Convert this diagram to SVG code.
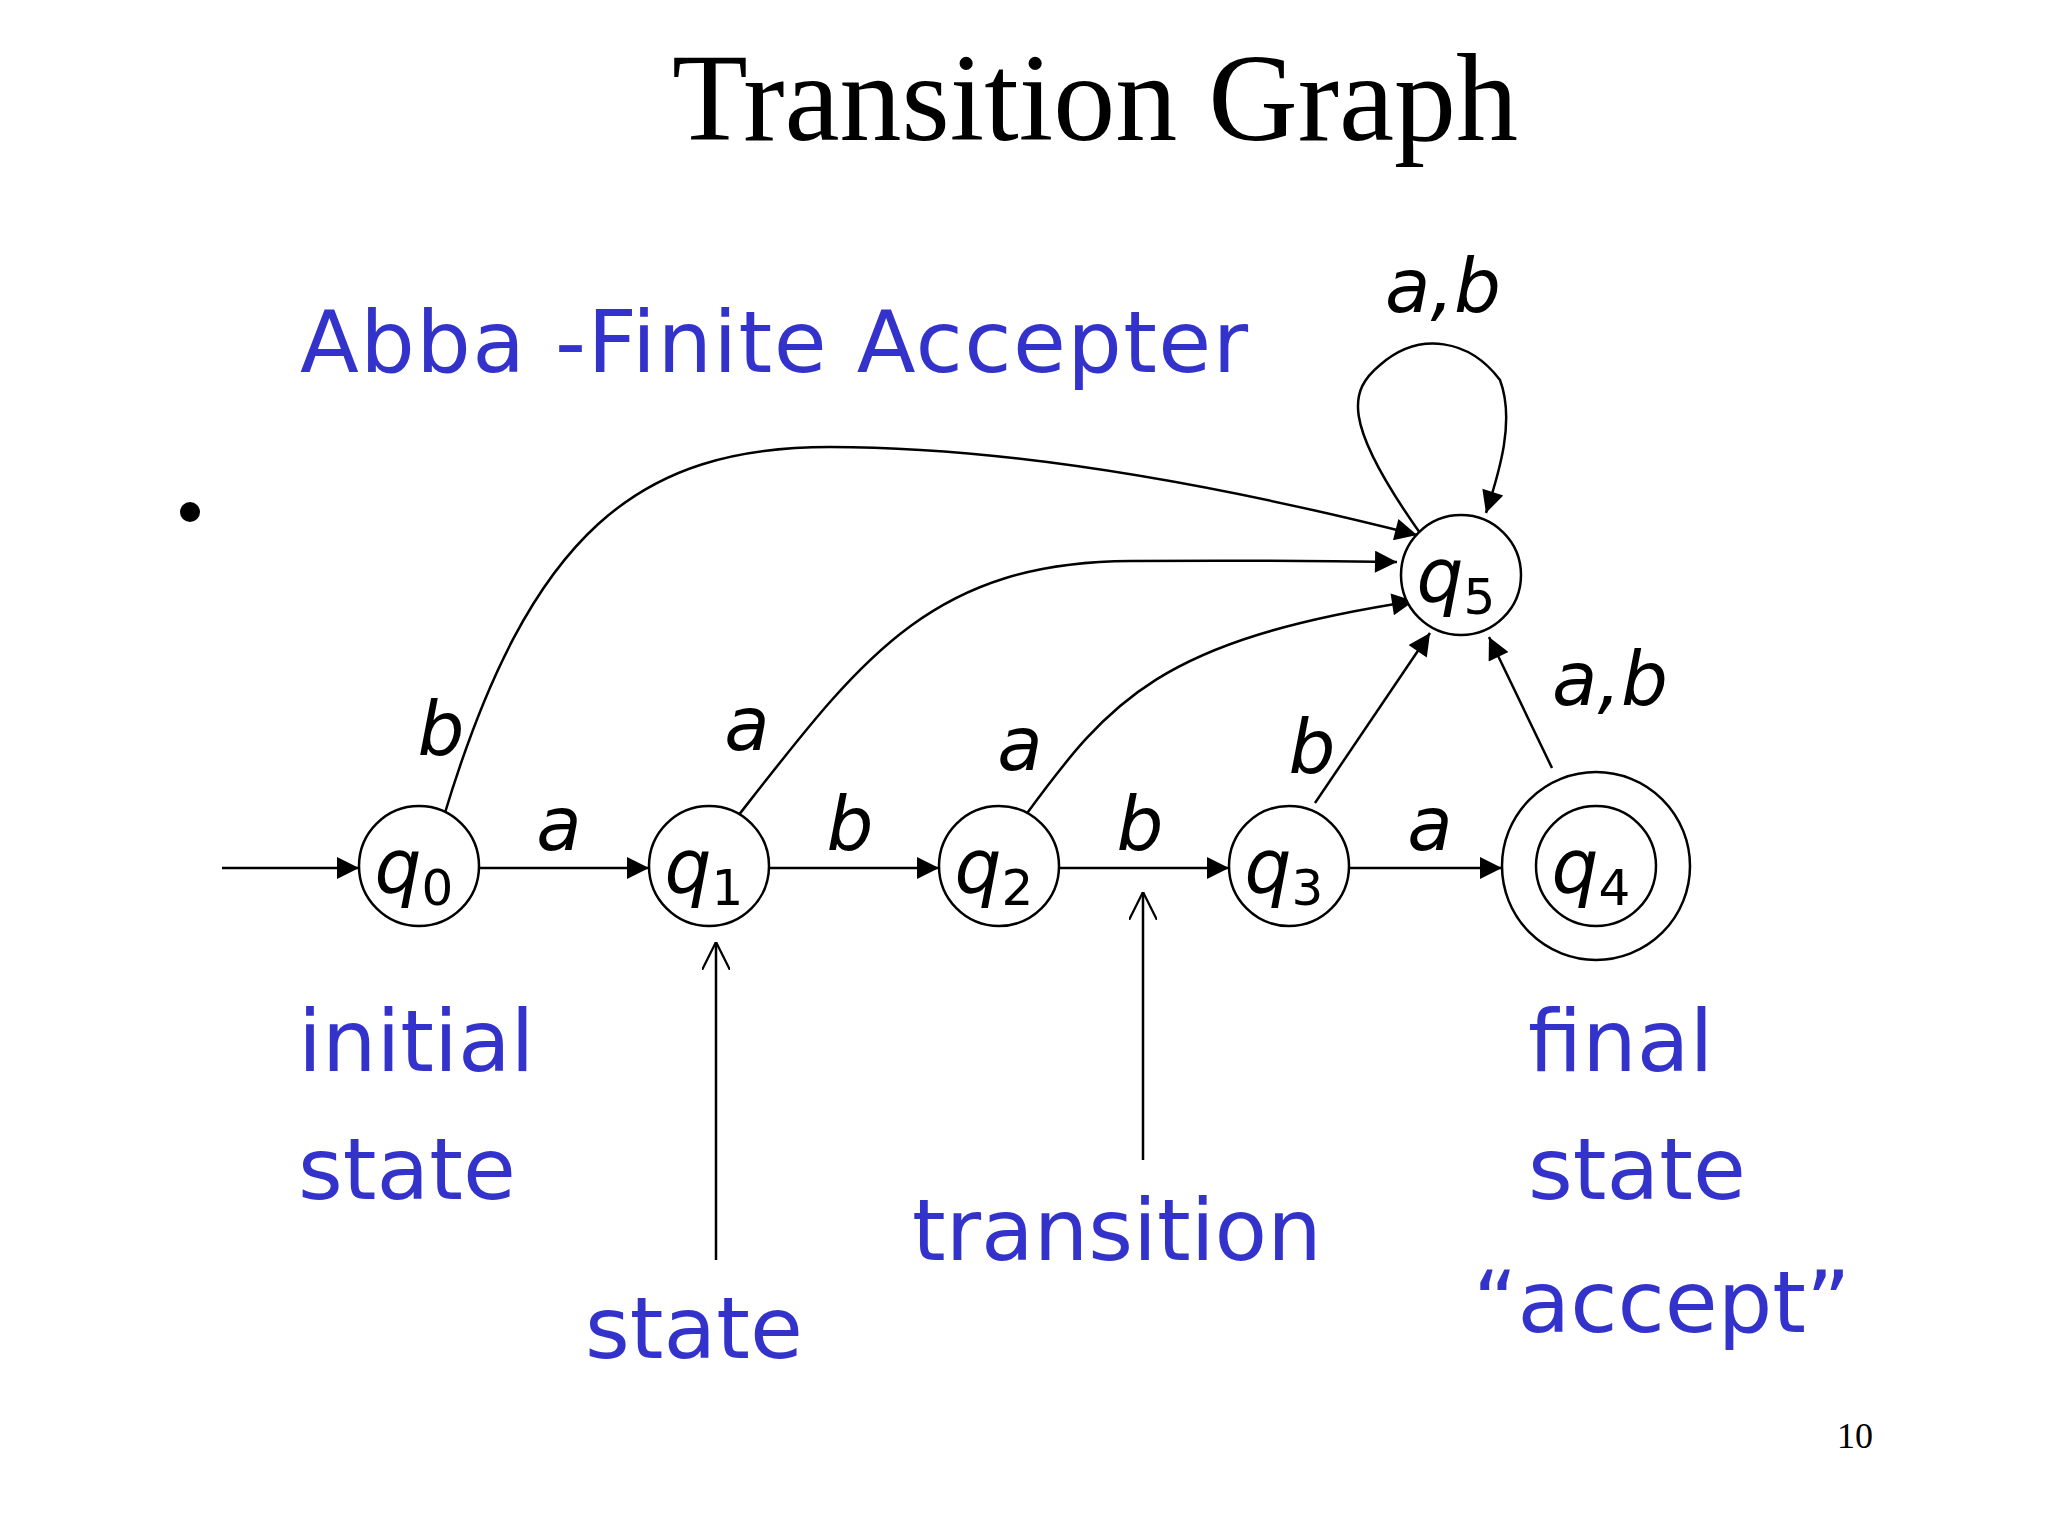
<svg xmlns="http://www.w3.org/2000/svg" width="2048" height="1536" viewBox="0 0 2048 1536">
<defs>
<marker id="big" viewBox="0 0 10 10" refX="10" refY="5" markerWidth="26" markerHeight="22" markerUnits="userSpaceOnUse" orient="auto"><path d="M0,0 L10,5 L0,10 z" fill="#000"/></marker>
<marker id="open" viewBox="0 0 10 10" refX="10" refY="5" markerWidth="28" markerHeight="28" markerUnits="userSpaceOnUse" orient="auto"><path d="M0,0 L10,5 L0,10" fill="none" stroke="#000" stroke-width="0.8"/></marker>
<style>
.st{fill:#fff;stroke:#000;stroke-width:2.5}
.e{fill:none;stroke:#000;stroke-width:2.5;marker-end:url(#big)}
.ann{fill:none;stroke:#000;stroke-width:2.5;marker-end:url(#open)}
.q{font-family:"DejaVu Sans",sans-serif;font-style:italic;font-size:74px;text-anchor:middle}
.q tspan{font-size:50px;font-style:normal}
.l{font-family:"DejaVu Sans",sans-serif;font-style:italic;font-size:74px;text-anchor:middle}
.b{font-family:"DejaVu Sans",sans-serif;font-size:86px;fill:#3333cc}
</style>
</defs>
<rect width="2048" height="1536" fill="#fff"/>
<text x="1095" y="140" font-family="Liberation Serif,serif" font-size="124" text-anchor="middle">Transition Graph</text>
<text class="b" x="300" y="372" textLength="948">Abba -Finite Accepter</text>
<circle cx="190" cy="512" r="10" fill="#000"/>
<g id="edges">
<path class="e" d="M222,868 L359,868"/>
<path class="e" d="M479,868 L649,868"/>
<path class="e" d="M769,868 L939,868"/>
<path class="e" d="M1059,868 L1229,868"/>
<path class="e" d="M1349,868 L1502,868"/>
<path class="e" d="M444,816 C530,530 640,447 830,447 C1000,447 1200,480 1417,535"/>
<path class="e" d="M738,816 C860,660 930,562 1130,561 C1250,560 1330,561 1397,562"/>
<path class="e" d="M1025,816 C1110,700 1160,640 1414,601"/>
<path class="e" d="M1315,803 L1430,633"/>
<path class="e" d="M1552,768 L1489,637"/>
<path class="e" d="M1420,533 C1340,420 1350,390 1380,365 C1420,330 1470,340 1500,380 C1515,420 1500,470 1486,513"/>
<path class="ann" d="M716,1260 L716,942"/>
<path class="ann" d="M1143,1160 L1143,892"/>
</g>
<g id="q0"><circle class="st" cx="419" cy="866" r="60"/><text class="q" x="414" y="893">q<tspan dy="12">0</tspan></text></g>
<g id="q1"><circle class="st" cx="709" cy="866" r="60"/><text class="q" x="704" y="893">q<tspan dy="12">1</tspan></text></g>
<g id="q2"><circle class="st" cx="999" cy="866" r="60"/><text class="q" x="994" y="893">q<tspan dy="12">2</tspan></text></g>
<g id="q3"><circle class="st" cx="1289" cy="866" r="60"/><text class="q" x="1284" y="893">q<tspan dy="12">3</tspan></text></g>
<g id="q4"><circle class="st" cx="1596" cy="866" r="94"/><circle class="st" cx="1596" cy="866" r="60"/><text class="q" x="1591" y="893">q<tspan dy="12">4</tspan></text></g>
<g id="q5"><circle class="st" cx="1461" cy="575" r="60"/><text class="q" x="1456" y="602">q<tspan dy="12">5</tspan></text></g>
<g id="labels">
<text class="l" x="559" y="850">a</text>
<text class="l" x="850" y="850">b</text>
<text class="l" x="1140" y="850">b</text>
<text class="l" x="1430" y="850">a</text>
<text class="l" x="441" y="755">b</text>
<text class="l" x="747" y="750">a</text>
<text class="l" x="1020" y="770">a</text>
<text class="l" x="1312" y="773">b</text>
<text class="l" x="1610" y="705">a,b</text>
<text class="l" x="1443" y="312">a,b</text>
</g>
<text class="b" x="298" y="1071">initial</text>
<text class="b" x="298" y="1199">state</text>
<text class="b" x="585" y="1358">state</text>
<text class="b" x="912" y="1260">transition</text>
<text class="b" x="1528" y="1071">final</text>
<text class="b" x="1528" y="1199">state</text>
<text class="b" x="1473" y="1332">“accept”</text>
<text x="1855" y="1448" font-family="Liberation Serif,serif" font-size="36" text-anchor="middle">10</text>
</svg>
